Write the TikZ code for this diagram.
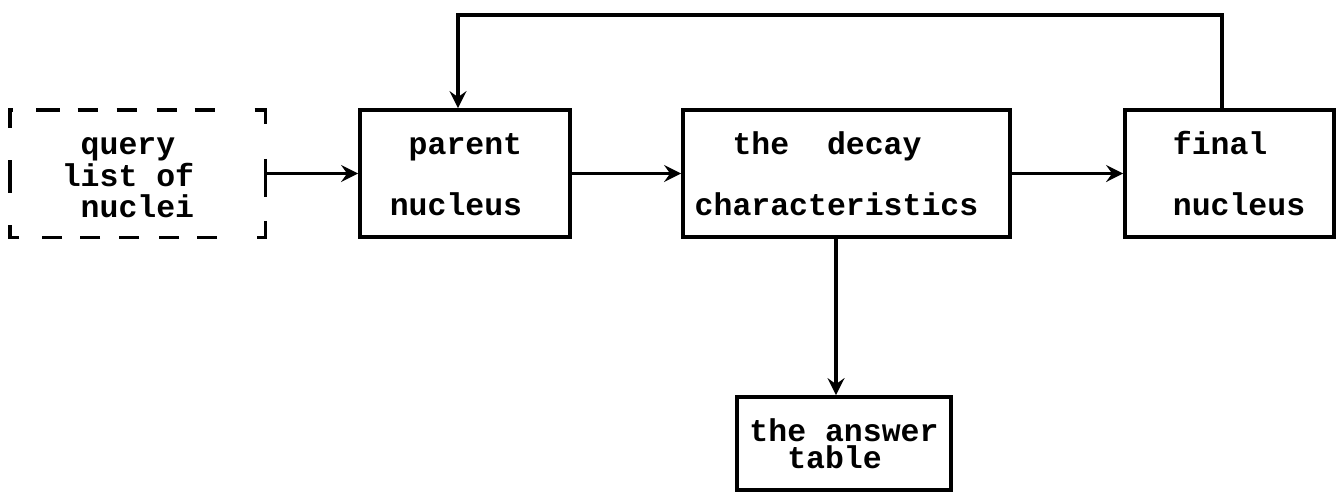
\documentclass[tikz,border=0pt]{standalone}
\usepackage{fontspec}
\usetikzlibrary{arrows.meta}
\newfontfamily\diagfont{Liberation Mono}
\tikzset{
  box/.style={draw, line width=1.9pt, inner sep=0pt, minimum height=63.5pt,
    font=\diagfont\bfseries\fontsize{15.75}{15.75}\selectfont},
  qbox/.style={draw=none, inner sep=0pt, minimum width=127.5pt, minimum height=63.5pt,
    font=\diagfont\bfseries\fontsize{15.75}{15.75}\selectfont},
  qdash/.style={line width=1.9pt, line join=miter,
    dash pattern=on 10pt off 9pt on 10pt off 9.5pt on 10pt off 10pt on 10pt off 9pt on 10pt off 20pt on 12.5pt off 17.5pt on 19pt off 12pt on 12.5pt off 20pt on 10pt off 9pt on 10pt off 10pt on 10pt off 9.5pt on 10pt off 9pt on 10pt off 11.5pt on 11pt off 16pt on 16.5pt off 16pt on 11pt off 11.5pt},
  arr/.style={line width=1.9pt, -{Stealth[length=8.5pt,width=8.5pt,inset=3pt]}},
}
\begin{document}
\begin{tikzpicture}[x=0.5pt,y=-0.5pt]
\useasboundingbox (0,0) rectangle (1339,494);
% nodes
\node[qbox, align=left] (q) at (137.5,173.5)
  {\rule{0pt}{13pt}\phantom{x}query\\list~of\hspace*{9.5pt}\\\phantom{x}nuclei\hspace*{9.5pt}};
\node[box, minimum width=105pt, align=right] (p) at (465,173.5)
  {\rule{0pt}{12pt}parent\hspace*{9pt}\\[14.75pt]nucleus\hspace*{9pt}};
\node[box, minimum width=163.5pt, align=left] (d) at (846.5,173.5)
  {\rule{0pt}{12pt}\phantom{xx}the~~decay\\[14.75pt]characteristics\hspace*{10pt}};
\node[box, minimum width=104.5pt, align=left] (f) at (1229.5,173.5)
  {\rule{0pt}{12pt}\hspace*{9.5pt}final\\[14.75pt]\hspace*{9.5pt}nucleus};
\node[box, minimum width=107pt, minimum height=46.5pt, align=left] (a) at (844,443.5)
  {the~answer\\[-2.25pt]\phantom{xx}table};
\coordinate (top) at (0,15);
% dashed outline of the query box
\draw[qdash] ([xshift=15pt]q.north west) -- (q.north east) -- (q.south east)
  -- (q.south west) -- (q.north west) -- cycle;
% connectors
\draw[arr] (q.east) -- (p.west);
\draw[arr] (p.east) -- (d.west);
\draw[arr] (d.east) -- (f.west);
\draw[arr] ([xshift=-4pt]a.north |- d.south) -- ([xshift=-4pt]a.north);
\draw[arr] ([xshift=-3.75pt]f.north) -- ([xshift=-3.75pt]f.north |- top)
  -- ([xshift=-3.5pt]p.north |- top) -- ([xshift=-3.5pt]p.north);
\end{tikzpicture}
\end{document}
